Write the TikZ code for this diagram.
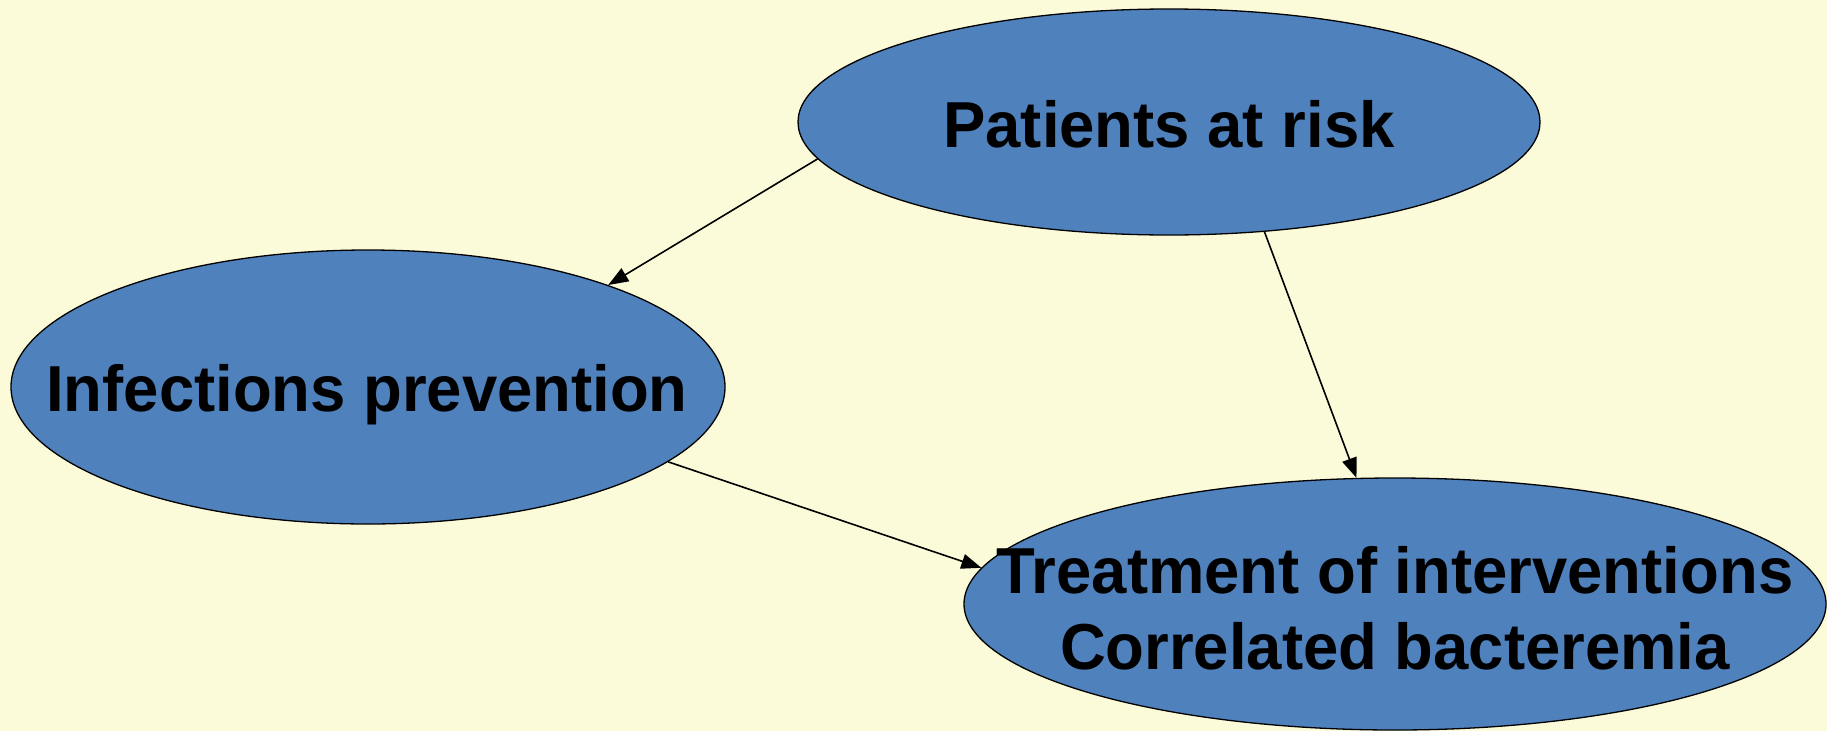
\documentclass[tikz,border=0pt]{standalone}
\usepackage{fontspec}
\setmainfont{Liberation Sans}[FakeStretch=0.976]
\usetikzlibrary{shapes.geometric,arrows.meta}
\definecolor{bgyellow}{HTML}{FBFBD9}
\definecolor{ellblue}{HTML}{4F81BD}
\tikzset{
  ell/.style={ellipse, draw=black, line width=1.3pt, fill=ellblue, inner sep=0pt},
  lab/.style={anchor=base, inner sep=0pt, font=\fontsize{65}{74}\selectfont\bfseries, text=black},
  conn/.style={draw=black, line width=1.6pt, -{Triangle[length=20pt, width=15pt]}}
}
\begin{document}
\begin{tikzpicture}[x=1pt, y=-1pt]
\fill[bgyellow] (0,0) rectangle (1827,731);
\useasboundingbox (0,0) rectangle (1827,731);
\node[ell, minimum width=742pt, minimum height=226pt] (pat) at (1169,122) {};
\node[ell, minimum width=714pt, minimum height=274pt] (inf) at (368,387) {};
\node[ell, minimum width=862pt, minimum height=252pt] (treat) at (1395,604) {};
\node[lab] (patT) at (1169,147) {Patients at risk};
\node[lab] (infT) at (367,411) {Infections prevention};
\node[lab] (treatA) at (1395,593) {Treatment of interventions};
\node[lab] (treatB) at (1395,669) {Correlated bacteremia};
\draw[conn] (pat.186) -- (inf.23);
\draw[conn] (pat.311) -- (treat.107);
\draw[conn] (inf.346) -- (treat.175);
\end{tikzpicture}
\end{document}
